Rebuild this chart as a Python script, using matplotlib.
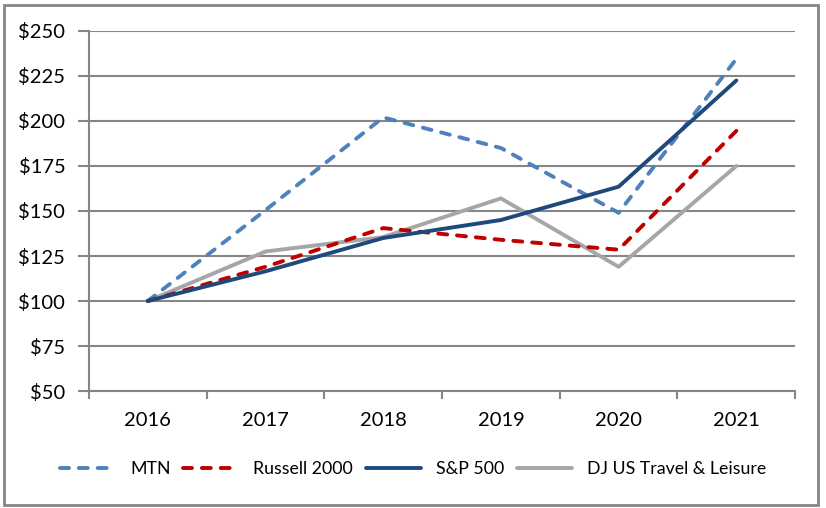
import matplotlib
matplotlib.use('Agg')
import matplotlib.pyplot as plt
from matplotlib.patches import Rectangle

years = ['2016', '2017', '2018', '2019', '2020', '2021']
mtn = [100, 150.5, 202, 185, 149, 234.5]
russell = [100, 119, 140.5, 134, 128.5, 194.5]
sp500 = [100, 116.5, 135, 145, 163.5, 222.5]
dj_travel = [100, 127.5, 135.5, 157, 119, 175]
y_ticks = [50, 75, 100, 125, 150, 175, 200, 225, 250]

plt.rcParams['font.family'] = ['Lato', 'DejaVu Sans']

fig = plt.figure(figsize=(8.26, 5.08), dpi=100)
ax = fig.add_axes([0.1077, 0.2303, 0.855, 0.7087])

x = range(len(years))
ax.plot(x, mtn, color='#4F81BD', lw=2.8, dashes=(2.3, 2.55), dash_capstyle='round', label='MTN', zorder=3)
ax.plot(x, russell, color='#C00000', lw=2.8, dashes=(2.3, 2.55), dash_capstyle='round', label='Russell 2000', zorder=3)
ax.plot(x, sp500, color='#1F497D', lw=2.8, solid_capstyle='round', label='S&P 500', zorder=4)
ax.plot(x, dj_travel, color='#A6A6A6', lw=2.8, solid_capstyle='round', label='DJ US Travel & Leisure', zorder=2)

ax.set_ylim(50, 250)
ax.set_yticks(y_ticks)
ax.set_yticklabels([f'${v}' for v in y_ticks], fontsize=14.5)
ax.set_xlim(-0.5, len(years) - 0.5)
ax.set_xticks([i - 0.5 for i in range(len(years) + 1)])
ax.set_xticklabels([])
ax.set_xticks(list(x), minor=True)
ax.set_xticklabels(years, minor=True, fontsize=14.5)
ax.tick_params(axis='x', which='minor', length=0, pad=15)
ax.tick_params(axis='x', which='major', length=6, width=1.5, color='#868686', direction='out')
ax.tick_params(axis='y', length=8, width=1.5, color='#868686', pad=9)

ax.grid(axis='y', color='#868686', lw=1.5, zorder=0)
for side in ['top', 'right']:
    ax.spines[side].set_visible(False)
for side in ['left', 'bottom']:
    ax.spines[side].set_color('#868686')
    ax.spines[side].set_linewidth(1.5)

fig.legend(loc='center', bbox_to_anchor=(0.5, 0.077), ncol=4, frameon=False,
           fontsize=12.8, handlelength=3.1, columnspacing=0.7, handletextpad=0.85)

fig.patches.append(Rectangle((0.005, 0.006), 0.985, 0.985, transform=fig.transFigure,
                             fill=False, edgecolor='#868686', lw=2))

fig.savefig('out.png', dpi=100)
